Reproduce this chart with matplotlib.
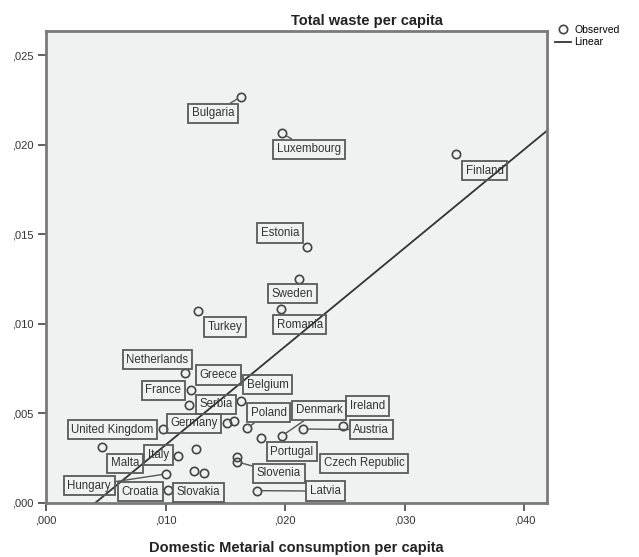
import matplotlib
matplotlib.use("Agg")
import matplotlib.pyplot as plt

plt.rcParams['font.family'] = ['Liberation Sans', 'DejaVu Sans']

# domestic material consumption (x) vs total waste (y), per capita
countries = ['Bulgaria', 'Luxembourg', 'Finland', 'Estonia', 'Sweden', 'Romania',
             'Turkey', 'Netherlands', 'France', 'Greece', 'Belgium', 'Serbia',
             'Germany', 'Poland', 'United Kingdom', 'Malta', 'Italy', 'Portugal',
             'Denmark', 'Austria', 'Ireland', 'Czech Republic', 'Slovenia',
             'Hungary', 'Croatia', 'Slovakia', 'Latvia', '', '']
dmc = [0.01629, 0.01977, 0.03431, 0.02187, 0.02117, 0.01967,
       0.01269, 0.01163, 0.01211, 0.01199, 0.01629, 0.01573,
       0.01517, 0.01680, 0.00982, 0.00466, 0.01107, 0.01799,
       0.01972, 0.02148, 0.02488, 0.01596, 0.01596,
       0.01002, 0.01023, 0.01322, 0.01763, 0.01255, 0.01238]
waste = [0.02267, 0.02063, 0.01948, 0.01427, 0.01252, 0.01081,
         0.01073, 0.00724, 0.00631, 0.00547, 0.00571, 0.00459,
         0.00448, 0.00417, 0.00413, 0.00311, 0.00264, 0.00364,
         0.00374, 0.00413, 0.00431, 0.00258, 0.00230,
         0.00162, 0.00073, 0.00169, 0.00069, 0.00300, 0.00180]

# linear fit line
fit_slope = 0.55
fit_intercept = -0.00226

# where each country's label box sits
label_pos = {
    'Bulgaria': (0.01397, 0.02176), 'Luxembourg': (0.02201, 0.01975),
    'Finland': (0.03669, 0.01855), 'Estonia': (0.01958, 0.01507),
    'Sweden': (0.02063, 0.01169), 'Romania': (0.02121, 0.00996),
    'Turkey': (0.01494, 0.00982), 'Netherlands': (0.00931, 0.00800),
    'Greece': (0.01442, 0.00714), 'France': (0.00982, 0.00629),
    'Serbia': (0.01421, 0.00551), 'Belgium': (0.01854, 0.00660),
    'Germany': (0.01237, 0.00445), 'Poland': (0.01862, 0.00504),
    'Denmark': (0.02283, 0.00517), 'Ireland': (0.02690, 0.00541),
    'Austria': (0.02721, 0.00409), 'United Kingdom': (0.00556, 0.00409),
    'Portugal': (0.02056, 0.00286), 'Czech Republic': (0.02661, 0.00222),
    'Malta': (0.00661, 0.00222), 'Italy': (0.00940, 0.00268),
    'Slovenia': (0.01947, 0.00166), 'Hungary': (0.00361, 0.00097),
    'Croatia': (0.00788, 0.00063), 'Slovakia': (0.01275, 0.00060),
    'Latvia': (0.02337, 0.00066),
}
with_leader = ['Bulgaria', 'Luxembourg', 'Hungary', 'Latvia', 'Austria',
               'Denmark', 'Slovenia', 'Poland']

x_ticks = [0.0, 0.01, 0.02, 0.03, 0.04]
y_ticks = [0.0, 0.005, 0.01, 0.015, 0.02, 0.025]

fig = plt.figure(figsize=(6.39, 5.57), dpi=100)
ax = fig.add_axes([0.072, 0.097, 0.784, 0.847])
ax.set_facecolor('#f0f1f1')

ax.set_xlim(0, 0.0419)
ax.set_ylim(0, 0.02634)

xs = [ax.get_xlim()[0], ax.get_xlim()[1]]
ax.plot(xs, [fit_intercept + fit_slope * v for v in xs], color='#333333',
        lw=1.3, zorder=2, label='Linear')
ax.plot(dmc, waste, 'o', ms=6, mfc='none', mec='#444444', mew=1.2,
        zorder=3, label='Observed')

for name, x, y in zip(countries, dmc, waste):
    if not name:
        continue
    lx, ly = label_pos[name]
    arrow = None
    if name in with_leader:
        arrow = dict(arrowstyle='-', color='#555555', lw=1.0,
                     shrinkA=0, shrinkB=3)
    ax.annotate(name, xy=(x, y), xytext=(lx, ly), textcoords='data',
                ha='center', va='center', fontsize=8.3, color='#333333',
                bbox=dict(boxstyle='square,pad=0.32', fc='none',
                          ec='#5a5a5a', lw=1.3),
                arrowprops=arrow, zorder=4)

ax.set_xticks(x_ticks)
ax.set_yticks(y_ticks)
ax.set_xticklabels([('%.3f' % v)[1:].replace('.', ',') for v in x_ticks])
ax.set_yticklabels([('%.3f' % v)[1:].replace('.', ',') for v in y_ticks])
ax.tick_params(direction='out', length=6, width=1.2, colors='#444444',
               labelsize=8, labelcolor='#333333', pad=3)

for s in ax.spines.values():
    s.set_color('#7a7a7a')
    s.set_linewidth(2)

ax.set_xlabel('Domestic Metarial consumption per capita', fontsize=10.5,
              fontweight='bold', color='#222222', labelpad=11)
fig.text(0.574, 0.963, 'Total waste per capita', ha='center', va='center',
         fontsize=10.5, fontweight='bold', color='#222222')

handles, labels = ax.get_legend_handles_labels()
fig.legend(handles[::-1], labels[::-1], loc='upper left',
           bbox_to_anchor=(0.868, 0.955), frameon=False, fontsize=7.5,
           handlelength=1.6, handletextpad=0.3, labelspacing=0.2,
           borderaxespad=0, borderpad=0)

fig.savefig('out.png', dpi=100)
